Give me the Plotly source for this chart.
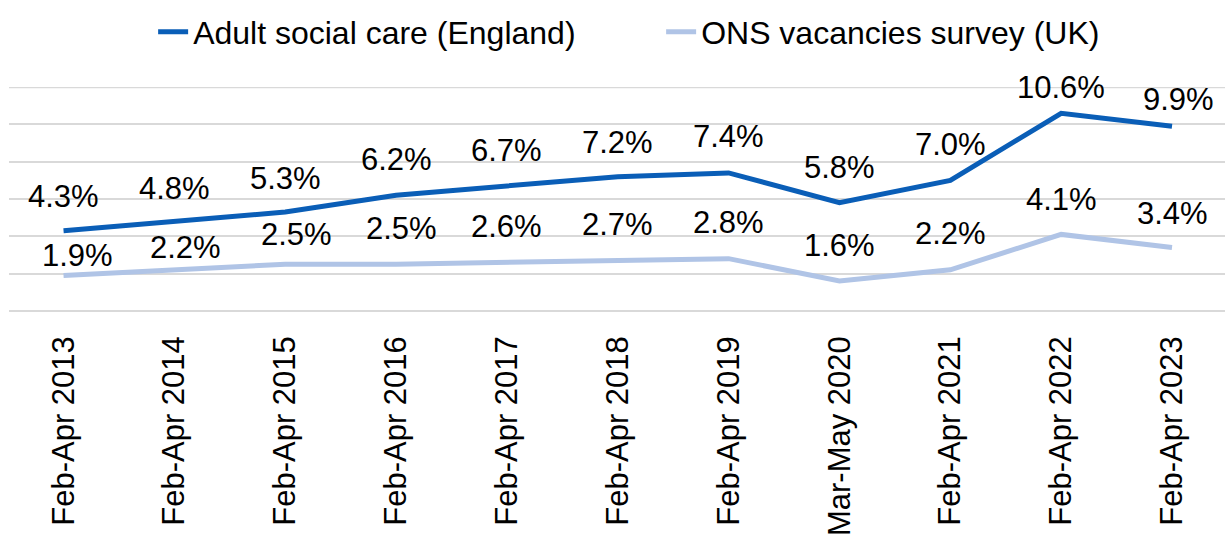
import plotly.graph_objects as go

categories = ["Feb-Apr 2013", "Feb-Apr 2014", "Feb-Apr 2015", "Feb-Apr 2016",
              "Feb-Apr 2017", "Feb-Apr 2018", "Feb-Apr 2019", "Mar-May 2020",
              "Feb-Apr 2021", "Feb-Apr 2022", "Feb-Apr 2023"]
asc_values = [4.3, 4.8, 5.3, 6.2, 6.7, 7.2, 7.4, 5.8, 7.0, 10.6, 9.9]
ons_values = [1.9, 2.2, 2.5, 2.5, 2.6, 2.7, 2.8, 1.6, 2.2, 4.1, 3.4]
asc_name = "Adult social care (England)"
ons_name = "ONS vacancies survey (UK)"
y_max = 12

# label placement offsets (pixels) - styling only
asc_yshift = [34, 33, 34, 36, 35, 34, 36, 35, 36, 26, 27]
asc_xshift = [0, 0, 0, 0, 0, 0, 0, 0, 0, 0, 6]
ons_yshift = [20, 22, 30, 36, 36, 36, 36, 36, 36, 35, 34]
ons_xshift = [14, 11, 11, 5, 0, 0, 0, 0, 0, 0, 0]

FONT = "Liberation Sans, Arial, sans-serif"
ASC_COLOR = "#0A5EB7"
ONS_COLOR = "#B0C4E6"
GRID = "#D9D9D9"

fig = go.Figure()
fig.add_trace(go.Scatter(x=categories, y=asc_values, name=asc_name, mode="lines",
                         line=dict(color=ASC_COLOR, width=5), hoverinfo="skip"))
fig.add_trace(go.Scatter(x=categories, y=ons_values, name=ons_name, mode="lines",
                         line=dict(color=ONS_COLOR, width=5), hoverinfo="skip"))

annotations = []
for vals, ys, xs in ((asc_values, asc_yshift, asc_xshift), (ons_values, ons_yshift, ons_xshift)):
    for c, v, dy, dx in zip(categories, vals, ys, xs):
        annotations.append(dict(x=c, y=v, xref="x", yref="y", text=f"{v:.1f}%",
                                showarrow=False, yshift=dy, xshift=dx,
                                xanchor="center", yanchor="middle",
                                font=dict(family=FONT, size=31, color="#000000")))

fig.update_layout(
    width=1225, height=536,
    margin=dict(l=9, r=0, t=87, b=225, autoexpand=False),
    plot_bgcolor="white", paper_bgcolor="white",
    font=dict(family=FONT, color="#000000"),
    showlegend=True,
    legend=dict(orientation="h", xref="container", yref="container",
                x=0.125, y=1 - 32 / 536, xanchor="left", yanchor="middle",
                font=dict(family=FONT, size=32, color="#000000"),
                entrywidth=463, entrywidthmode="pixels",
                bgcolor="rgba(0,0,0,0)", itemclick=False),
    annotations=annotations,
    shapes=[dict(type="line", xref="paper", yref="y", x0=0, x1=1, y0=y_max, y1=y_max,
                 line=dict(color=GRID, width=2), layer="below")],
    xaxis=dict(type="category", range=[-0.492, 10.478], showgrid=False,
               showline=False, zeroline=False, ticks="", tickangle=-90,
               ticklabelstandoff=18,
               tickfont=dict(family=FONT, size=31, color="#000000")),
    yaxis=dict(range=[-0.01, y_max + 0.01], dtick=2, tick0=0, showticklabels=False, showgrid=True,
               gridcolor=GRID, gridwidth=2, zeroline=True,
               zerolinecolor=GRID, zerolinewidth=2, showline=False, ticks=""),
)

fig.write_html("out.html", config={"displayModeBar": False, "staticPlot": True},
               post_script="document.body.style.margin='0';document.body.style.overflow='hidden';")
